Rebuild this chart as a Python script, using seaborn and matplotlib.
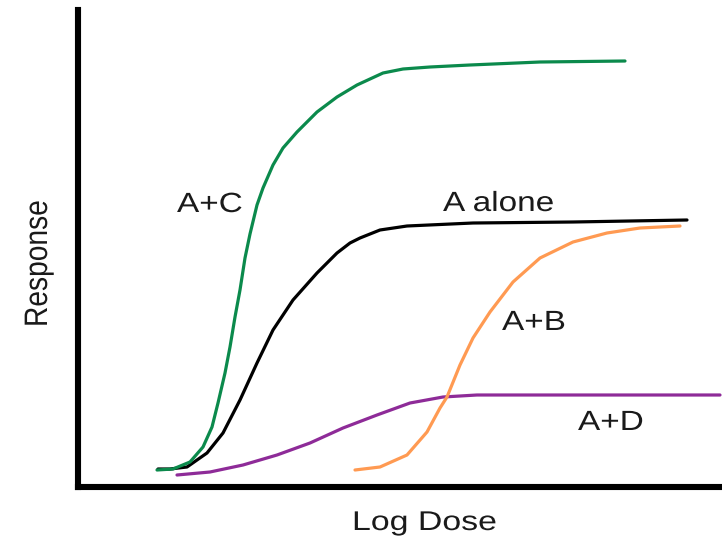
import matplotlib
matplotlib.use("Agg")
import matplotlib.pyplot as plt
import seaborn as sns
import pandas as pd
from matplotlib.patheffects import AbstractPathEffect
from matplotlib.transforms import Affine2D

# ---- data (log dose vs response, arbitrary units) ----
ac_dose = [79, 95, 112, 125, 134, 140, 147, 152, 157, 162, 167, 172, 179, 185, 195, 205,
           219, 239, 259, 279, 305, 325, 352, 392, 462, 547]
ac_resp = [17, 18, 25, 40, 60, 84, 114, 140, 170, 197, 229, 253, 282, 299, 322, 339,
           355, 375, 390, 402, 414, 418, 420, 422, 425, 426]

a_dose = [80, 92, 109, 129, 145, 162, 179, 195, 215, 239, 259, 272, 282, 302, 329, 395, 495, 609]
a_resp = [18, 18, 20, 34, 54, 87, 124, 157, 187, 214, 234, 244, 249, 257, 261, 264, 265, 267]

ad_dose = [99, 132, 165, 199, 232, 265, 299, 332, 365, 399, 482, 642]
ad_resp = [12, 15, 22, 32, 44, 59, 72, 84, 90, 92, 92, 92]

ab_dose = [277, 302, 329, 349, 362, 369, 382, 395, 412, 435, 462, 495, 529, 562, 602]
ab_resp = [17, 20, 32, 55, 79, 90, 122, 149, 175, 205, 229, 245, 254, 259, 261]

labels = ["A+C", "A alone", "A+B", "A+D"]
x_label = "Log Dose"
y_label = "Response"

colors = {"A+C": "#0b8a4c", "A alone": "#000000", "A+B": "#ff9a52", "A+D": "#8e2b98"}

frames = []
for name, d, r in [("A+C", ac_dose, ac_resp), ("A alone", a_dose, a_resp),
                   ("A+B", ab_dose, ab_resp), ("A+D", ad_dose, ad_resp)]:
    frames.append(pd.DataFrame({"dose": d, "resp": r, "curve": name}))
df = pd.concat(frames, ignore_index=True)


class Stretch(AbstractPathEffect):
    def __init__(self, sx=1.0, sy=1.0):
        super().__init__()
        self.sx, self.sy = sx, sy

    def draw_path(self, renderer, gc, tpath, affine, rgbFace=None):
        renderer.draw_path(gc, tpath, Affine2D().scale(self.sx, self.sy) + affine, rgbFace)


sns.set_theme(style="white")
plt.rcParams["font.family"] = ["Liberation Sans", "DejaVu Sans"]

W, H = 722, 548
fig = plt.figure(figsize=(W / 100, H / 100), dpi=100)
ax = fig.add_axes([78 / W, (H - 487) / H, (W - 78) / W, (487 - 10) / H])

for name in ["A+D", "A+B", "A alone", "A+C"]:
    sub = df[df["curve"] == name]
    sns.lineplot(data=sub, x="dose", y="resp", ax=ax, sort=False, color=colors[name],
                 linewidth=2.3, estimator=None, legend=False,
                 solid_joinstyle="round", solid_capstyle="round")

ax.set_xlim(0, 644)
ax.set_ylim(0, 477)
ax.set_xticks([])
ax.set_yticks([])
ax.set_xlabel("")
ax.set_ylabel("")
for s in ["top", "right"]:
    ax.spines[s].set_visible(False)
for s in ["left", "bottom"]:
    ax.spines[s].set_visible(True)
    ax.spines[s].set_color("black")
    ax.spines[s].set_linewidth(4.4)

label_pos = {"A+C": (99, 275), "A alone": (365, 276), "A+B": (424, 157), "A+D": (500, 57)}
for name in labels:
    x, y = label_pos[name]
    ax.text(x, y, name, fontsize=20, color="#1a1a1a", ha="left", va="baseline",
            rotation_mode="anchor", path_effects=[Stretch(1.2, 1.0)])

fig.text(352 / W, (H - 530) / H, x_label, fontsize=19.5, color="#1a1a1a", ha="left",
         va="baseline", rotation_mode="anchor", path_effects=[Stretch(1.25, 1.0)])
fig.text(47 / W, (H - 327) / H, y_label, fontsize=19.5, color="#1a1a1a", ha="left",
         va="baseline", rotation=90, rotation_mode="anchor", path_effects=[Stretch(1.04, 1.2)])

fig.savefig("out.png", dpi=100)
